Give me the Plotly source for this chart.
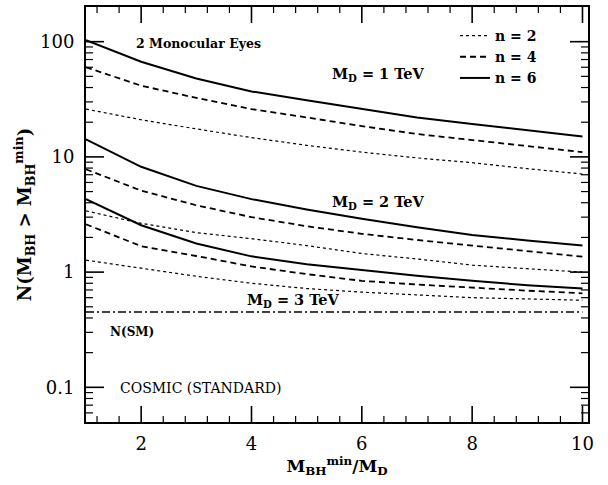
import math
import plotly.graph_objects as go

x_vals = [1, 2, 3, 4, 5, 6, 7, 8, 9, 10]

# M_D = 1 TeV
md1_n2 = [26, 21, 17.5, 14.7, 12.6, 11.0, 9.8, 8.9, 7.9, 7.1]
md1_n4 = [60, 41.5, 32.5, 26, 22, 18.5, 15.8, 14.0, 12.4, 11.0]
md1_n6 = [103, 67, 48, 37, 31, 26, 22, 19.3, 17, 15]
# M_D = 2 TeV
md2_n2 = [3.4, 2.65, 2.2, 1.95, 1.7, 1.45, 1.3, 1.15, 1.07, 1.0]
md2_n4 = [7.8, 5.1, 3.8, 3.0, 2.5, 2.15, 1.9, 1.7, 1.5, 1.36]
md2_n6 = [14.2, 8.2, 5.6, 4.3, 3.5, 2.9, 2.45, 2.1, 1.88, 1.7]
# M_D = 3 TeV
md3_n2 = [1.27, 1.08, 0.92, 0.8, 0.72, 0.67, 0.63, 0.6, 0.585, 0.57]
md3_n4 = [2.6, 1.68, 1.38, 1.12, 0.96, 0.84, 0.78, 0.73, 0.69, 0.655]
md3_n6 = [4.3, 2.55, 1.77, 1.37, 1.17, 1.04, 0.93, 0.84, 0.77, 0.72]
# Standard model
n_sm = [0.45] * 10

x_ticks = [2, 4, 6, 8, 10]
x_minor_ticks = [1.2, 1.6, 2.4, 2.8, 3.2, 3.6, 4.4, 4.8, 5.2, 5.6,
                 6.4, 6.8, 7.2, 7.6, 8.4, 8.8, 9.2, 9.6]
y_ticks = [0.1, 1, 10, 100]
y_ticklabels = ["0.1", "1", "10", "100"]
y_minor_ticks = [0.06, 0.07, 0.08, 0.09,
                 0.2, 0.3, 0.4, 0.5, 0.6, 0.7, 0.8, 0.9,
                 2, 3, 4, 5, 6, 7, 8, 9,
                 20, 30, 40, 50, 60, 70, 80, 90]

X_RANGE = [1, 10.1]
Y_RANGE = [0.05, 200]

styles = {
    2: dict(dash="dot", width=1.2),
    4: dict(dash="6px,4px", width=1.8),
    6: dict(dash="solid", width=2.0),
}

FONT = "DejaVu Serif"
NB = "\u00a0"

fig = go.Figure()

groups = [
    (md1_n2, 2, True), (md1_n4, 4, True), (md1_n6, 6, True),
    (md2_n2, 2, False), (md2_n4, 4, False), (md2_n6, 6, False),
    (md3_n2, 2, False), (md3_n4, 4, False), (md3_n6, 6, False),
]
for ys, n, show in groups:
    st = styles[n]
    fig.add_trace(go.Scatter(
        x=x_vals, y=ys, mode="lines",
        line=dict(color="black", width=st["width"], dash=st["dash"]),
        name=f"<b>n{NB}={NB}{n}</b>", showlegend=show, legendrank=n,
    ))

fig.add_trace(go.Scatter(
    x=x_vals, y=n_sm, mode="lines",
    line=dict(color="black", width=1.5, dash="8px,3px,2px,3px"),
    showlegend=False,
))

fig.update_xaxes(
    range=X_RANGE, showline=True, linecolor="black", linewidth=2,
    mirror=True, ticks="", showgrid=False, zeroline=False,
    tickmode="array", tickvals=x_ticks, ticktext=[str(v) for v in x_ticks],
    ticklabelstandoff=4,
    tickfont=dict(family=FONT, size=18, color="black"),
    title=dict(text="<b>M<sub>BH</sub><sup>min</sup>/M<sub>D</sub></b>",
               font=dict(family=FONT, size=17, color="black"), standoff=0),
)
fig.update_yaxes(
    type="log", range=[math.log10(Y_RANGE[0]), math.log10(Y_RANGE[1])],
    showline=True, linecolor="black", linewidth=2, mirror=True, ticks="",
    showgrid=False, zeroline=False,
    tickmode="array", tickvals=y_ticks, ticktext=y_ticklabels,
    ticklabelstandoff=6,
    tickfont=dict(family=FONT, size=18, color="black"),
    title=dict(text="<b>N(M<sub>BH</sub> > M<sub>BH</sub><sup>min</sup>)</b>",
               font=dict(family=FONT, size=18, color="black"), standoff=4),
)

TICKCOL = "black"


# inside tick marks on all four sides, placed through the axes at the tick values
def xtick(v, length, width):
    for anchor, sign in ((0, 1), (1, -1)):
        fig.add_shape(type="line", xref="x", x0=v, x1=v, yref="paper",
                      ysizemode="pixel", yanchor=anchor, y0=0, y1=sign * length,
                      line=dict(color=TICKCOL, width=width))


def ytick(v, length, width):
    for anchor, sign in ((0, 1), (1, -1)):
        fig.add_shape(type="line", yref="y", y0=v, y1=v, xref="paper",
                      xsizemode="pixel", xanchor=anchor, x0=0, x1=sign * length,
                      line=dict(color=TICKCOL, width=width))


for v in x_ticks:
    xtick(v, 16, 1.6)
for v in x_minor_ticks:
    xtick(v, 6, 1.2)
for v in y_ticks:
    ytick(v, 18, 1.6)
for v in y_minor_ticks:
    ytick(v, 7, 1.2)


def ann(x, y, text, size=13, xanchor="left"):
    fig.add_annotation(x=x, y=y, xref="paper", yref="paper", text=text,
                       showarrow=False, xanchor=xanchor, yanchor="middle",
                       font=dict(family=FONT, size=size, color="black"))


def py(p):
    return 1 - (p - 5) / 417


def px(p):
    return (p - 86) / 502


ann(px(134), py(42), "<b>2 Monocular Eyes</b>", 12.5)
ann(px(330), py(73), "<b>M<sub>D</sub> = 1 TeV</b>", 14.5)
ann(px(330), py(201), "<b>M<sub>D</sub> = 2 TeV</b>", 14.5)
ann(px(245), py(300), "<b>M<sub>D</sub> = 3 TeV</b>", 14.5)
ann(px(108), py(332), "<b>N(SM)</b>", 12)
ann(px(118), py(388), "COSMIC (STANDARD)", 14)

fig.update_layout(
    width=608, height=485,
    margin=dict(l=86, r=20, t=5, b=63),
    plot_bgcolor="white", paper_bgcolor="white",
    showlegend=True,
    legend=dict(x=px(455), y=py(18), xanchor="left", yanchor="top",
                bgcolor="rgba(0,0,0,0)", borderwidth=0,
                font=dict(family=FONT, size=14, color="black"),
                tracegroupgap=0, itemwidth=30),
)

fig.write_html("out.html")
